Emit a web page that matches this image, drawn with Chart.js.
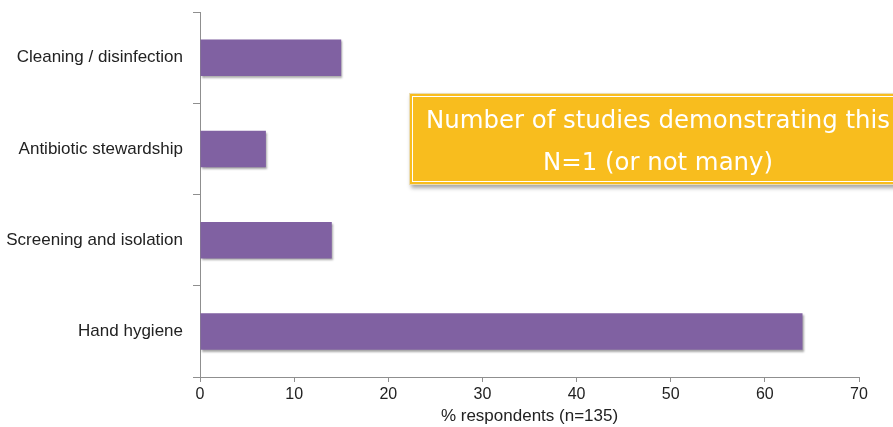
<!DOCTYPE html>
<html>
<head>
<meta charset="utf-8">
<script src="https://cdn.jsdelivr.net/npm/chart.js@4/dist/chart.umd.min.js"></script>
<style>
  html, body { margin: 0; padding: 0; background: #fff; overflow: hidden; }
  #wrap { position: relative; width: 893px; height: 427px; }
  #callout {
    position: absolute; left: 409px; top: 93px; width: 492px; height: 86px;
    background: #f8bd1e; border: 1px solid #eadcb4; padding: 2px;
    box-shadow: 2px 3px 4px rgba(0,0,0,0.35);
  }
  #callout .inner {
    height: 100%; border: 1px solid #fff; box-sizing: border-box;
    color: #fff; font-family: "DejaVu Sans", sans-serif; font-size: 24.4px;
    text-align: center; line-height: 42px; padding-top: 2px; white-space: nowrap;
  }
</style>
</head>
<body>
<div id="wrap">
  <canvas id="chart" width="893" height="427"></canvas>
  <div id="callout"><div class="inner">Number of studies demonstrating this<br>N=1 (or not many)</div></div>
</div>
<script>
// --- DATA ---
const categories = ['Cleaning / disinfection', 'Antibiotic stewardship', 'Screening and isolation', 'Hand hygiene'];
const percentRespondents = [15, 7, 14, 64];
const xTicks = [0, 10, 20, 30, 40, 50, 60, 70];

const axisGrey = '#8f8f8f';

// soft drop shadow under the bars
const barShadow = {
    id: 'barShadow',
    beforeDatasetsDraw(chart) {
        const c = chart.ctx;
        c.save();
        c.shadowColor = 'rgba(0,0,0,0.35)';
        c.shadowOffsetX = 1;
        c.shadowOffsetY = 2;
        c.shadowBlur = 2;
    },
    afterDatasetsDraw(chart) {
        chart.ctx.restore();
    }
};

const ctx = document.getElementById('chart').getContext('2d');
new Chart(ctx, {
    type: 'bar',
    data: {
        labels: categories,
        datasets: [{
            data: percentRespondents,
            backgroundColor: '#8061a2',
            borderWidth: 0,
            barPercentage: 0.4,
            categoryPercentage: 1
        }]
    },
    options: {
        indexAxis: 'y',
        responsive: false,
        animation: false,
        layout: { padding: { top: 12, right: 34 } },
        plugins: {
            legend: { display: false },
            tooltip: { enabled: false }
        },
        scales: {
            x: {
                min: 0,
                max: 70,
                afterBuildTicks: (scale) => { scale.ticks = xTicks.map(v => ({ value: v })); },
                afterFit: (scale) => { scale.height = 50; scale.paddingLeft = 0; scale.paddingRight = 0; },
                border: { color: axisGrey, width: 1 },
                grid: { drawOnChartArea: false, color: axisGrey, tickLength: 5 },
                ticks: {
                    color: '#222',
                    font: { family: 'Liberation Sans', size: 16 },
                    padding: 3,
                    maxRotation: 0
                },
                title: {
                    display: true,
                    text: '% respondents (n=135)',
                    color: '#222',
                    font: { family: 'Liberation Sans', size: 17 },
                    padding: { top: 0, bottom: 0 }
                }
            },
            y: {
                afterFit: (scale) => { scale.width = 200; scale.paddingTop = 0; scale.paddingBottom = 0; },
                border: { color: axisGrey, width: 1 },
                grid: { drawOnChartArea: false, offset: true, color: axisGrey, tickLength: 7 },
                ticks: {
                    color: '#222',
                    font: { family: 'Liberation Sans', size: 17 },
                    padding: 10
                }
            }
        }
    },
    plugins: [barShadow]
});
</script>
</body>
</html>
